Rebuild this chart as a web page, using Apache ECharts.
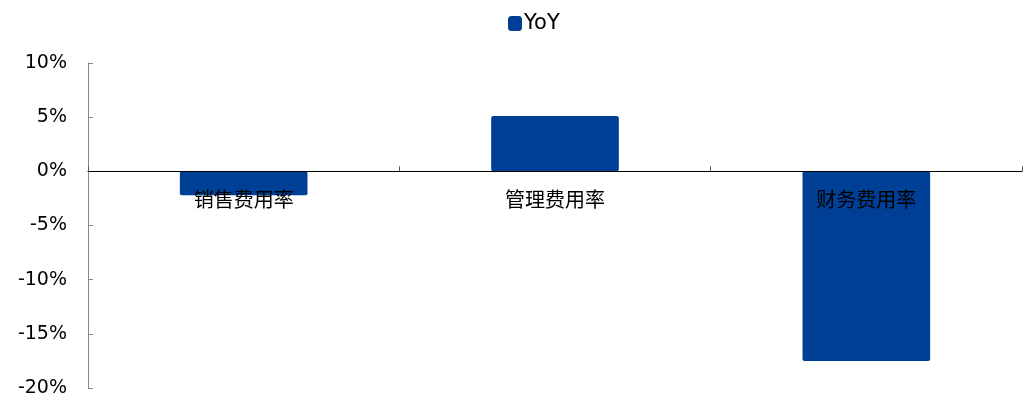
<!DOCTYPE html>
<html lang="zh">
<head>
    <meta charset="UTF-8">
    <title>YoY</title>
    <script src="https://cdn.jsdelivr.net/npm/echarts@6/dist/echarts.min.js"></script>
    <style>
        html, body { margin: 0; padding: 0; background: #fff; }
        #container { width: 1027px; height: 403px; }
    </style>
</head>
<body>
<div id="container"></div>
<script>
    // 数据
    var categories = ['销售费用率', '管理费用率', '财务费用率'];
    var yoy = [-2.2, 5.1, -17.5];
    var yTicks = [-20, -15, -10, -5, 0, 5, 10];

    var W = 1027, H = 403;
    var gridTop = 63, gridBottom = 15;
    var yMin = yTicks[0], yMax = yTicks[yTicks.length - 1];
    // 把分类轴整体（含标签）移到 0 轴处
    var plotH = H - gridTop - gridBottom;
    var zeroOffset = -plotH * (0 - yMin) / (yMax - yMin);

    var myChart = echarts.init(document.getElementById('container'), null, { renderer: 'canvas' });

    var option = {
        animation: false,
        legend: {
            top: 8,
            left: 503,
            itemWidth: 14,
            itemHeight: 15,
            itemGap: 4,
            textStyle: { fontFamily: 'DejaVu Sans', fontSize: 21, color: '#000', padding: [0, 0, 0, -3] },
            data: ['YoY']
        },
        grid: { left: 88, right: 5, top: gridTop, bottom: gridBottom },
        xAxis: {
            type: 'category',
            data: categories,
            z: 10,
            offset: zeroOffset,
            axisLine: { onZero: false, lineStyle: { color: '#000', width: 1 } },
            axisTick: { show: true, inside: true, length: 5, alignWithLabel: false, lineStyle: { color: '#555' } },
            axisLabel: {
                margin: 18,
                fontFamily: 'Noto Sans CJK SC',
                fontSize: 20,
                color: '#000'
            }
        },
        yAxis: {
            type: 'value',
            min: yMin,
            max: yMax,
            interval: 5,
            splitLine: { show: false },
            axisLine: { show: true, lineStyle: { color: '#888' } },
            axisTick: { show: true, inside: true, length: 5, lineStyle: { color: '#888' } },
            axisLabel: {
                margin: 21,
                fontFamily: 'DejaVu Sans',
                fontSize: 19,
                color: '#000',
                formatter: function (v) { return v + '%'; }
            }
        },
        series: [{
            name: 'YoY',
            type: 'bar',
            data: yoy,
            barWidth: '41%',
            itemStyle: { color: '#003F96', borderRadius: 2 }
        }]
    };

    myChart.setOption(option);
    window.addEventListener('resize', myChart.resize);
</script>
</body>
</html>
